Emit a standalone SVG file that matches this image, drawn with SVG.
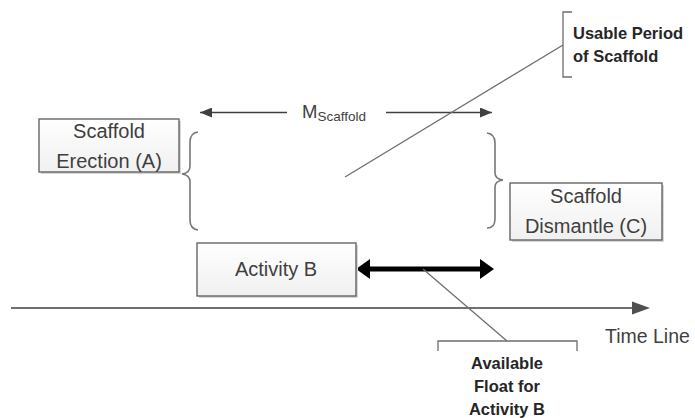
<svg xmlns="http://www.w3.org/2000/svg" width="695" height="418" viewBox="0 0 695 418">
  <defs>
    <linearGradient id="boxFill" x1="0" y1="0" x2="0" y2="1">
      <stop offset="0" stop-color="#ffffff"/>
      <stop offset="1" stop-color="#f0f0f0"/>
    </linearGradient>
    <marker id="thinHead" viewBox="0 0 12 10" refX="12" refY="5" markerWidth="12" markerHeight="10" markerUnits="userSpaceOnUse" orient="auto">
      <path d="M0,0 L12,5 L0,10 Z" fill="#404040"/>
    </marker>
  </defs>
  <style>
    .box { fill: url(#boxFill); stroke: #5a5a5a; stroke-width: 1.3; }
    .shadow { fill: #d8d8d8; }
    .lbl { font-family: "Liberation Sans", Arial, sans-serif; font-size: 20px; fill: #3f3f3f; text-anchor: middle; }
    .note { font-family: "Liberation Sans", Arial, sans-serif; font-size: 16.5px; font-weight: bold; fill: #262626; }
    .thin { fill: none; stroke: #6e6e6e; stroke-width: 1.3; }
    .brace { fill: none; stroke: #777777; stroke-width: 1.6; }
    .dim { fill: none; stroke: #404040; stroke-width: 1.3; }
  </style>

  <!-- connectors and annotation lines -->
  <g id="connectors">
    <!-- time axis -->
    <line x1="11" y1="308" x2="632" y2="308" stroke="#707070" stroke-width="2"/>
    <polygon points="650,308 632,301.5 632,314.5" fill="#505050"/>

    <!-- M scaffold dimension arrows -->
    <line class="dim" x1="287" y1="112.5" x2="200" y2="112.5" marker-end="url(#thinHead)"/>
    <line class="dim" x1="386" y1="112.5" x2="492" y2="112.5" marker-end="url(#thinHead)"/>

    <!-- float of activity B -->
    <line x1="368" y1="269" x2="482" y2="269" stroke="#000000" stroke-width="5"/>
    <polygon points="356,269 370,259 370,279" fill="#000000"/>
    <polygon points="494,269 480,259 480,279" fill="#000000"/>

    <!-- leader lines to callouts -->
    <line class="thin" x1="345" y1="177" x2="563" y2="45"/>
    <line class="thin" x1="423" y1="269" x2="507" y2="341"/>

    <!-- callout brackets -->
    <path class="thin" d="M572,12 L563,12 L563,77 L572,77"/>
    <path class="thin" d="M438,351 L438,341 L577,341 L577,351"/>

    <!-- curly braces -->
    <path class="brace" d="M198,132 Q190,133 190,142 L190,166 Q190,173 182,174 Q190,175 190,182 L190,220 Q190,229 198,230"/>
    <path class="brace" d="M487,133 Q495,134 495,143 L495,173 Q495,179 503,180 Q495,181 495,187 L495,219 Q495,228 487,228"/>
  </g>

  <g id="scaffold-erection">
    <rect class="shadow" x="41" y="121" width="140" height="53"/>
    <rect class="box" x="39" y="119" width="140" height="53"/>
    <text class="lbl" x="109" y="138">Scaffold</text>
    <text class="lbl" x="109" y="168">Erection (A)</text>
  </g>

  <g id="scaffold-dismantle">
    <rect class="shadow" x="512" y="185" width="152" height="57"/>
    <rect class="box" x="510" y="183" width="152" height="57"/>
    <text class="lbl" x="586" y="203">Scaffold</text>
    <text class="lbl" x="586" y="233">Dismantle (C)</text>
  </g>

  <g id="activity-b">
    <rect class="shadow" x="199" y="245" width="159" height="53"/>
    <rect class="box" x="197" y="243" width="159" height="53"/>
    <text class="lbl" x="276" y="276">Activity B</text>
  </g>

  <g id="m-scaffold">
    <text font-family="Liberation Sans, Arial, sans-serif" fill="#3f3f3f" x="302" y="118" font-size="18.5">M<tspan font-size="13.5" dy="3">Scaffold</tspan></text>
  </g>

  <g id="time-line">
    <text font-family="Liberation Sans, Arial, sans-serif" font-size="19.5" fill="#3f3f3f" x="605" y="343">Time Line</text>
  </g>

  <g id="usable-period">
    <text class="note" x="573" y="39">Usable Period</text>
    <text class="note" x="573" y="62">of Scaffold</text>
  </g>

  <g id="available-float">
    <text class="note" x="507" y="369" text-anchor="middle">Available</text>
    <text class="note" x="507" y="392" text-anchor="middle">Float for</text>
    <text class="note" x="507" y="415" text-anchor="middle">Activity B</text>
  </g>
</svg>
